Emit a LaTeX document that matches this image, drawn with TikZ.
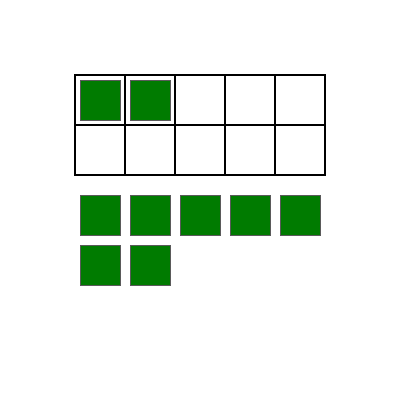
\documentclass[tikz,border=0pt]{standalone}
\begin{document}
\begin{tikzpicture}[x=1pt,y=-1pt,
  cell/.style={draw=black,line width=2pt},
  chip/.style={fill={rgb,255:red,0;green,123;blue,0},draw={rgb,255:red,90;green,90;blue,90},line width=1pt}]
\useasboundingbox (0,0) rectangle (400,400);
\foreach \r in {0,1}{
  \foreach \c in {0,...,4}{
    \draw[cell] (75+50*\c,75+50*\r) rectangle ++(50,50);
  }
}
\foreach \c in {0,1}{
  \draw[chip] (80+50*\c,80) rectangle ++(40,40);
}
\foreach \c in {0,...,4}{
  \draw[chip] (80+50*\c,195) rectangle ++(40,40);
}
\foreach \c in {0,1}{
  \draw[chip] (80+50*\c,245) rectangle ++(40,40);
}
\end{tikzpicture}
\end{document}
